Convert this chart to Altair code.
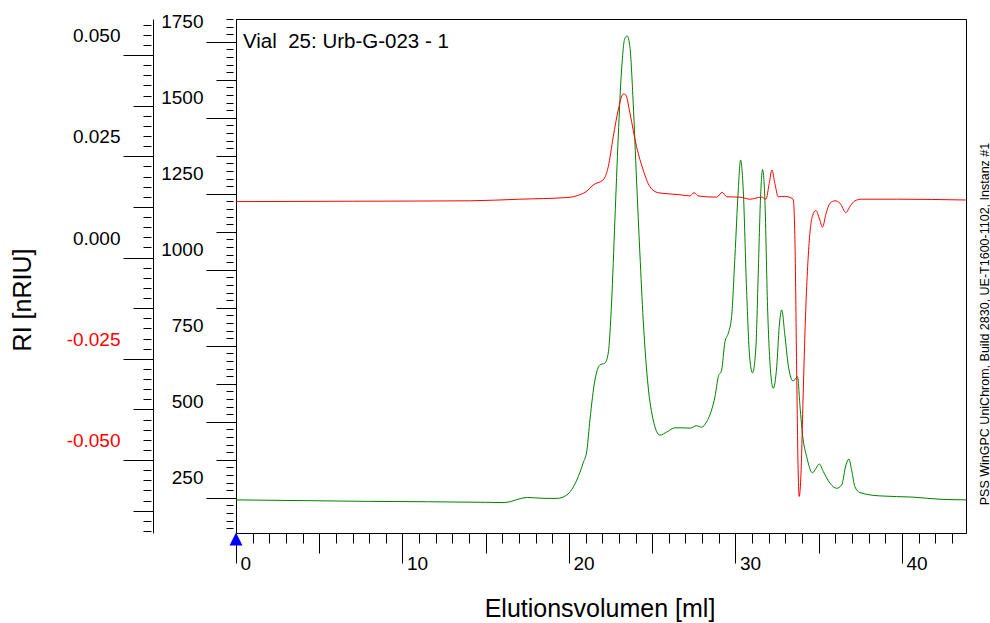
import altair as alt
import pandas as pd

# ---------------- data ----------------
green_ml = [0.0, 8.0, 15.0, 16.1, 17.5, 18.5, 19.3, 19.87, 20.47, 20.85, 21.08, 21.26, 21.56, 21.86,
            22.16, 22.36, 22.56, 22.76, 22.96, 23.16, 23.36, 23.50, 23.66, 23.86, 24.06, 24.26, 24.46,
            24.76, 25.06, 25.46, 25.87, 26.36, 26.86, 27.27, 27.67, 27.97, 28.27, 28.57, 28.77, 28.97,
            29.17, 29.37, 29.57, 29.77, 29.97, 30.17, 30.31, 30.47, 30.67, 30.87, 31.03, 31.23, 31.37,
            31.51, 31.63, 31.77, 31.93, 32.12, 32.27, 32.48, 32.63, 32.78, 32.97, 33.17, 33.47, 33.73,
            33.88, 34.04, 34.28, 34.63, 34.84, 35.04, 35.28, 35.68, 36.08, 36.38, 36.64, 36.82, 36.98,
            37.18, 37.48, 38.68, 40.68, 42.29, 43.85]
green_val = [243, 238, 235, 234, 251, 248, 248, 259, 308, 364, 407, 506, 637, 687,
             693, 726, 891, 1164, 1437, 1657, 1762, 1769, 1734, 1548, 1295, 1055, 835,
             614, 506, 456, 466, 480, 480, 479, 487, 482, 500, 539, 582, 648,
             670, 763, 791, 846, 1043, 1262, 1361, 1262, 933, 703, 661, 747, 988,
             1240, 1330, 1229, 878, 659, 610, 681, 813, 868, 785, 687, 634, 648,
             550, 453, 385, 332, 347, 361, 336, 298, 281, 292, 358, 377, 341,
             286, 267, 256, 252, 245, 243]

red_ml = [0.0, 7.0, 14.04, 17.05, 19.87, 20.65, 21.08, 21.45, 22.06, 22.36, 22.66, 22.96, 23.26,
          23.42, 23.66, 24.06, 24.46, 24.86, 25.36, 26.06, 26.66, 27.27, 27.51, 27.76, 28.87, 29.21,
          29.47, 30.27, 30.87, 31.57, 31.83, 32.03, 32.19, 32.37, 32.57, 32.97, 33.47, 33.58, 33.68,
          33.77, 33.83, 33.94, 34.06, 34.18, 34.41, 34.63, 34.83, 35.05, 35.23, 35.44, 35.68, 35.98,
          36.28, 36.64, 36.88, 37.18, 37.58, 39.69, 43.85]
red_val = [0.0138, 0.0139, 0.0140, 0.0144, 0.0148, 0.0155, 0.0164, 0.0179, 0.0192, 0.0224, 0.0298,
           0.0364, 0.0404, 0.0401, 0.0357, 0.0274, 0.0216, 0.0175, 0.0160, 0.0157, 0.0155, 0.0152,
           0.0160, 0.0152, 0.0149, 0.0161, 0.0150, 0.0149, 0.0144, 0.0149, 0.0144, 0.0183, 0.0216,
           0.0183, 0.0150, 0.0151, 0.0144, 0.0031, -0.0286, -0.0532, -0.0590, -0.0532, -0.0352,
           -0.0181, 0.0027, 0.0103, 0.0116, 0.0095, 0.0075, 0.0108, 0.0134, 0.0140, 0.0134, 0.0111,
           0.0126, 0.0140, 0.0144, 0.0144, 0.0142]

# tick values
x_major = [0, 10, 20, 30, 40]
x_mid = [5, 15, 25, 35]
x_minor = list(range(0, 44))
inner_major = [250, 500, 750, 1000, 1250, 1500, 1750]
inner_mid = [375, 625, 875, 1125, 1375, 1625]
inner_minor = list(range(150, 1826, 25))
outer_major = [-0.05, -0.025, 0.0, 0.025, 0.05]
outer_mid = [-0.0625, -0.0375, -0.0125, 0.0125, 0.0375]
outer_minor = [round(-0.0675 + 0.0025 * i, 4) for i in range(51)]

# texts
vial_label = ["Vial\u00a0 25: Urb-G-023 - 1"]
x_title = ["Elutionsvolumen [ml]"]
y_title = ["RI [nRIU]"]
side_note = ["PSS WinGPC UniChrom, Build 2830, UE-T1600-1102, Instanz #1"]
inject = [0.0]

X_DOM = [0, 43.85]
INNER_DOM = [134, 1825]
OUTER_DOM = [-0.06802, 0.05889]
FONT = "Liberation Sans"

gdf = pd.DataFrame({"ml": green_ml, "v": green_val})
rdf = pd.DataFrame({"ml": red_ml, "v": red_val})

base_ax = dict(grid=False, title=None, tickColor="black", domainColor="black", labelFont=FONT,
               tickWidth=1, domainWidth=1, labelFlush=False, labelOverlap=False, labelBound=False)


def xs(axis):
    return alt.X("ml:Q", scale=alt.Scale(domain=X_DOM, nice=False, zero=False), axis=axis)


def y_in(axis):
    return alt.Y("v:Q", scale=alt.Scale(domain=INNER_DOM, nice=False, zero=False), axis=axis)


def y_out(axis):
    return alt.Y("v:Q", scale=alt.Scale(domain=OUTER_DOM, nice=False, zero=False), axis=axis)


x_ax_major = alt.Axis(orient="bottom", values=x_major, tickSize=30, labelAlign="left",
                      labelBaseline="middle", labelOffset=4, labelPadding=0, labelFontSize=19,
                      format="d", domain=True, labelColor="black", **base_ax)
x_ax_mid = alt.Axis(orient="bottom", values=x_mid, tickSize=20, labels=False, domain=False, **base_ax)
x_ax_minor = alt.Axis(orient="bottom", values=x_minor, tickSize=10, labels=False, domain=False, **base_ax)

y_in_major = alt.Axis(orient="left", values=inner_major, tickSize=30, labelPadding=3, labelOffset=-20,
                      labelFontSize=19, format="d", domain=True, labelColor="black", **base_ax)
y_in_mid = alt.Axis(orient="left", values=inner_mid, tickSize=20, labels=False, domain=False, **base_ax)
y_in_minor = alt.Axis(orient="left", values=inner_minor, tickSize=7, offset=3, labels=False,
                      domain=False, **base_ax)

y_out_major = alt.Axis(orient="left", values=outer_major, tickSize=30, offset=83, labelPadding=3,
                       labelOffset=-19.5, labelFontSize=19, domain=True,
                       labelExpr="(datum.value < 0 ? '-' : '') + format(abs(datum.value), '.3f')",
                       labelColor={"condition": {"test": "datum.value < 0", "value": "#ff0000"},
                                   "value": "black"},
                       **base_ax)
y_out_mid = alt.Axis(orient="left", values=outer_mid, tickSize=20, offset=83, labels=False,
                     domain=False, **base_ax)
y_out_minor = alt.Axis(orient="left", values=outer_minor, tickSize=8, offset=85, labels=False,
                       domain=False, **base_ax)

green = alt.Chart(gdf).mark_line(color="#008000", strokeWidth=1, interpolate="monotone").encode(
    x=xs(x_ax_major), y=y_in(y_in_major))
red = alt.Chart(rdf).mark_line(color="#ff0000", strokeWidth=1, interpolate="monotone").encode(
    x=xs(x_ax_mid), y=y_out(y_out_major))
ax3 = alt.Chart(gdf).mark_line(opacity=0).encode(x=xs(x_ax_minor), y=y_in(y_in_mid))
ax4 = alt.Chart(gdf).mark_line(opacity=0).encode(x=xs(None), y=y_in(y_in_minor))
ax5 = alt.Chart(rdf).mark_line(opacity=0).encode(x=xs(None), y=y_out(y_out_mid))
ax6 = alt.Chart(rdf).mark_line(opacity=0).encode(x=xs(None), y=y_out(y_out_minor))

vial = alt.Chart(pd.DataFrame({"t": vial_label})).mark_text(
    align="left", baseline="middle", font=FONT, fontSize=20.5, color="black").encode(
    x=alt.value(7), y=alt.value(23), text="t:N")
xt = alt.Chart(pd.DataFrame({"t": x_title})).mark_text(
    align="center", baseline="middle", font=FONT, fontSize=25, color="black").encode(
    x=alt.value(364), y=alt.value(590), text="t:N")
yt = alt.Chart(pd.DataFrame({"t": y_title})).mark_text(
    align="center", baseline="middle", font=FONT, fontSize=25, color="black", angle=270).encode(
    x=alt.value(-213), y=alt.value(281), text="t:N")
side = alt.Chart(pd.DataFrame({"t": side_note})).mark_text(
    align="center", baseline="middle", font=FONT, fontSize=12.5, color="black", angle=270).encode(
    x=alt.value(748.5), y=alt.value(305), text="t:N")
tri = alt.Chart(pd.DataFrame({"ml": inject})).mark_point(
    shape="M0,-1L1,1L-1,1Z", filled=True, color="#0000ff", size=169, opacity=1).encode(
    x=xs(None), y=alt.value(520))

chart = alt.layer(ax3, ax4, ax5, ax6, green, red, vial, xt, yt, side, tri).resolve_scale(
    x="independent", y="independent"
).properties(
    width=730, height=514,
    padding={"left": 236, "top": 19, "right": 24, "bottom": 90},
    autosize=alt.AutoSizeParams(type="none"),
    background="white",
).configure_view(stroke="black", strokeWidth=1)

chart.save("out.html", embed_options={"renderer": "svg", "actions": False})
